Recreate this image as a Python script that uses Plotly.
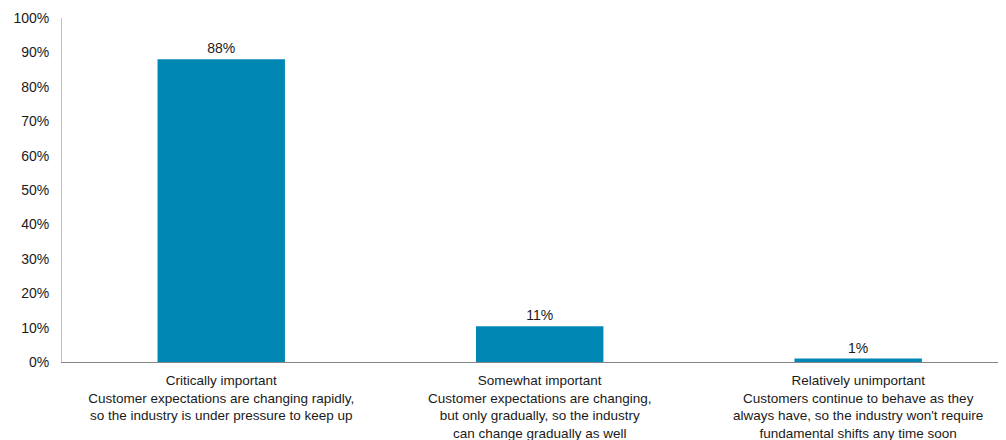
import plotly.graph_objects as go

categories = [
    "Critically important<br>Customer expectations are changing rapidly,<br>so the industry is under pressure to keep up",
    "Somewhat important<br>Customer expectations are changing,<br>but only gradually, so the industry<br>can change gradually as well",
    "Relatively unimportant<br>Customers continue to behave as they<br>always have, so the industry won't require<br>fundamental shifts any time soon",
]
values = [88, 10.4, 1.0]
labels = ["88%", "11%", "1%"]
y_ticks = [0, 10, 20, 30, 40, 50, 60, 70, 80, 90, 100]
y_tick_text = ["0%", "10%", "20%", "30%", "40%", "50%", "60%", "70%", "80%", "90%", "100%"]

font = "Liberation Sans, Arial, sans-serif"

fig = go.Figure(go.Bar(
    x=list(range(len(categories))),
    y=values,
    width=0.40,
    marker=dict(color="#0087B3", line=dict(width=0)),
    text=labels,
    textposition="outside",
    textfont=dict(size=14, color="#1a1a1a", family=font),
    cliponaxis=False,
))

# page body adds an 8px offset; size figure to fill the remaining window
fig.update_layout(
    width=998, height=432,
    margin=dict(l=54, r=1, t=10, b=78, autoexpand=False),
    paper_bgcolor="white", plot_bgcolor="white",
    font=dict(family=font, size=14, color="#1a1a1a"),
    showlegend=False,
    xaxis=dict(
        range=[-0.5, 2.461],
        tickmode="array",
        tickvals=list(range(len(categories))),
        ticktext=categories,
        showline=True, linecolor="#868686", linewidth=1,
        showgrid=False, zeroline=False, automargin=False,
        ticks="outside", ticklen=6, tickcolor="rgba(0,0,0,0)",
        tickfont=dict(size=13.5, color="#1a1a1a"),
    ),
    yaxis=dict(
        range=[0, 100],
        tickmode="array",
        tickvals=y_ticks,
        ticktext=y_tick_text,
        showline=True, linecolor="#C0C0C0", linewidth=1,
        showgrid=False, zeroline=False, automargin=False,
        ticks="outside", ticklen=9, tickcolor="rgba(0,0,0,0)",
        tickfont=dict(size=14, color="#1a1a1a"),
    ),
)

fig.write_html("out.html")
